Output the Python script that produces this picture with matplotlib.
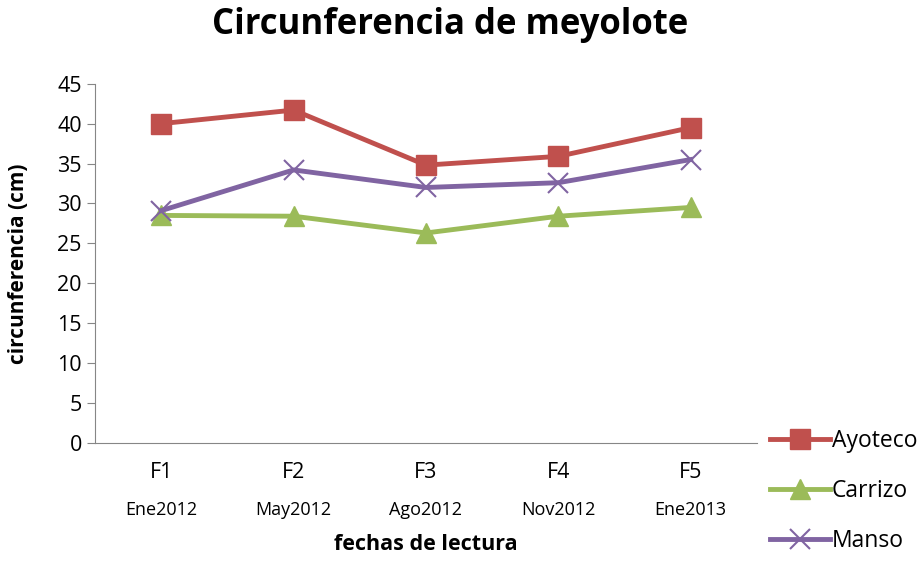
import matplotlib
matplotlib.use("Agg")
import matplotlib.pyplot as plt
from matplotlib.transforms import blended_transform_factory

plt.rcParams['font.family'] = ['Open Sans', 'DejaVu Sans']

fases = ["F1", "F2", "F3", "F4", "F5"]
fechas = ["Ene2012", "May2012", "Ago2012", "Nov2012", "Ene2013"]
ayoteco = [40.0, 41.7, 34.8, 35.9, 39.5]
carrizo = [28.5, 28.4, 26.3, 28.4, 29.5]
manso = [29.1, 34.2, 32.0, 32.6, 35.5]


def main():
    fig = plt.figure(figsize=(9.23, 5.62), dpi=100)
    ax = fig.add_axes([0.103, 0.212, 0.717, 0.639])
    x = list(range(len(fases)))

    ax.plot(x, ayoteco, color='#C0504D', lw=3.5, marker='s', ms=14, label='Ayoteco')
    ax.plot(x, carrizo, color='#9BBB59', lw=3.5, marker='^', ms=15, label='Carrizo')
    ax.plot(x, manso, color='#8064A2', lw=3.5, marker='x', ms=15, mew=1.5, label='Manso')

    ax.set_xlim(-0.5, 4.5)
    ax.set_ylim(0, 45)
    ax.set_yticks(range(0, 50, 5))
    ax.set_xticks(x)
    ax.set_xticklabels(fases, fontsize=15.5)
    ax.tick_params(axis='x', length=0, pad=14)
    ax.tick_params(axis='y', labelsize=15.5, length=6, color='#868686')
    for s in ['top', 'right']:
        ax.spines[s].set_visible(False)
    for s in ['left', 'bottom']:
        ax.spines[s].set_color('#868686')

    trans = blended_transform_factory(ax.transData, ax.transAxes)
    for xi, f in zip(x, fechas):
        ax.text(xi, -0.187, f, transform=trans, ha='center', va='center', fontsize=13)

    ax.set_xlabel('fechas de lectura', fontsize=15.5, fontweight='bold')
    ax.xaxis.set_label_coords(0.5, -0.255)
    ax.set_ylabel('circunferencia (cm)', fontsize=15, fontweight='bold')
    ax.yaxis.set_label_coords(-0.1, 0.5)
    fig.text(0.4875, 0.955, 'Circunferencia de meyolote', fontsize=25, fontweight='bold',
             ha='center', va='center')

    ax.legend(loc='center left', bbox_to_anchor=(1.02, -0.134), frameon=False,
              fontsize=16.5, handlelength=2.6, labelspacing=1.15, handletextpad=0.1,
              borderaxespad=0, borderpad=0)

    fig.savefig('out.png', dpi=100)


if __name__ == "__main__":
    main()
